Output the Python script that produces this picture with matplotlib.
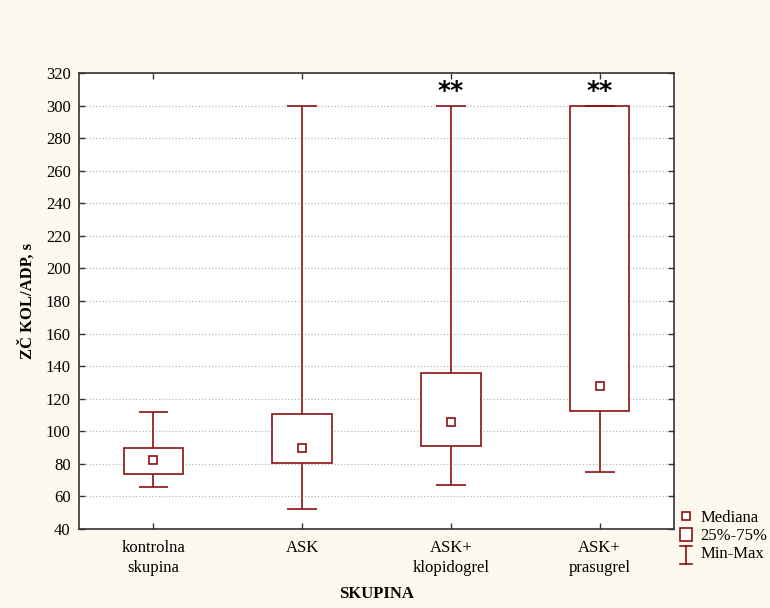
import matplotlib
matplotlib.use("Agg")
import matplotlib.pyplot as plt
from matplotlib.lines import Line2D
from matplotlib.patches import Rectangle
from matplotlib.legend_handler import HandlerBase

# ZČ KOL/ADP per group: min, Q1, median, Q3, max
groups = ["kontrolna\nskupina", "ASK", "ASK+\nklopidogrel", "ASK+\nprasugrel"]
mins = [66, 52, 67, 75]
q1 = [73.5, 80.5, 91, 112.5]
medians = [82.5, 90, 106, 128]
q3 = [89.5, 110.5, 135.5, 299.8]
maxs = [112, 300, 300, 300]
signif = ["", "", "**", "**"]

red = "#8c1010"
bg = "#fef9ee"
fs = 12

plt.rcParams["font.family"] = ["Liberation Serif", "DejaVu Serif"]

fig = plt.figure(figsize=(7.7, 6.08), dpi=100, facecolor=bg)
ax = fig.add_axes([79 / 770, 1 - 529 / 608, 595 / 770, 456 / 608])
ax.set_facecolor("white")

pos = list(range(1, len(groups) + 1))
box_w = 0.4
cap_w = 0.2

ax.bar(pos, [b - a for a, b in zip(q1, q3)], bottom=q1, width=box_w,
       facecolor="white", edgecolor=red, linewidth=1.2, zorder=3)
ax.vlines(pos, q3, maxs, color=red, lw=1.2, zorder=2)
ax.vlines(pos, mins, q1, color=red, lw=1.2, zorder=2)
ax.hlines(maxs, [p - cap_w / 2 for p in pos], [p + cap_w / 2 for p in pos],
          color=red, lw=1.2, zorder=3)
ax.hlines(mins, [p - cap_w / 2 for p in pos], [p + cap_w / 2 for p in pos],
          color=red, lw=1.2, zorder=3)
ax.plot(pos, medians, ls="none", marker="s", ms=6, mfc="white", mec=red,
        mew=1.2, zorder=4)

for p, s in zip(pos, signif):
    if s:
        ax.text(p, 309, s, ha="center", va="center", fontsize=18,
                fontweight="bold", family="DejaVu Sans")

ax.set_xlim(0.5, len(groups) + 0.5)
ax.set_ylim(40, 320)
ax.set_yticks(range(40, 321, 20))
ax.set_xticks(pos)
ax.set_xticklabels(groups, fontsize=fs, linespacing=1.35)
ax.tick_params(axis="y", labelsize=fs, pad=6)
ax.tick_params(axis="x", pad=8)
ax.tick_params(direction="in", length=4, width=1, top=True, right=True,
               color="#333333")
ax.grid(axis="y", ls=":", color="#b8b8b8", lw=0.9)
ax.set_axisbelow(True)
for sp in ax.spines.values():
    sp.set_color("#333333")
    sp.set_linewidth(1.2)

ax.set_xlabel("SKUPINA", fontsize=fs, fontweight="bold", labelpad=7)
ax.set_ylabel("ZČ KOL/ADP, s", fontsize=fs, fontweight="bold", labelpad=7)


class WhiskerHandler(HandlerBase):
    def create_artists(self, legend, orig_handle, xdescent, ydescent,
                       width, height, fontsize, trans):
        cx = width / 2 - xdescent
        top = height - ydescent
        bot = -4 - ydescent
        hw = width * 0.36
        return [
            Line2D([cx, cx], [bot, top], color=red, lw=1.2, transform=trans),
            Line2D([cx - hw, cx + hw], [top, top], color=red, lw=1.2, transform=trans),
            Line2D([cx - hw, cx + hw], [bot, bot], color=red, lw=1.2, transform=trans),
        ]


class BoxHandler(HandlerBase):
    def create_artists(self, legend, orig_handle, xdescent, ydescent,
                       width, height, fontsize, trans):
        return [Rectangle((-xdescent + width * 0.14, -ydescent - 1), width * 0.72,
                          height + 1, facecolor="white", edgecolor=red, lw=1.2,
                          transform=trans)]


med_handle = Line2D([], [], ls="none", marker="s", ms=6, mfc="white", mec=red, mew=1.2)
box_handle = Rectangle((0, 0), 1, 1)
whisk_handle = Line2D([], [])
fig.legend([med_handle, box_handle, whisk_handle],
           ["Mediana", "25%-75%", "Min-Max"],
           handler_map={Rectangle: BoxHandler(), whisk_handle: WhiskerHandler()},
           loc="upper left", bbox_to_anchor=(678 / 770, 1 - 510 / 608),
           frameon=False, fontsize=fs, handlelength=1.0, handletextpad=0.35,
           labelspacing=0.12, borderpad=0, borderaxespad=0)

fig.savefig("out.png", dpi=100, facecolor=bg)
